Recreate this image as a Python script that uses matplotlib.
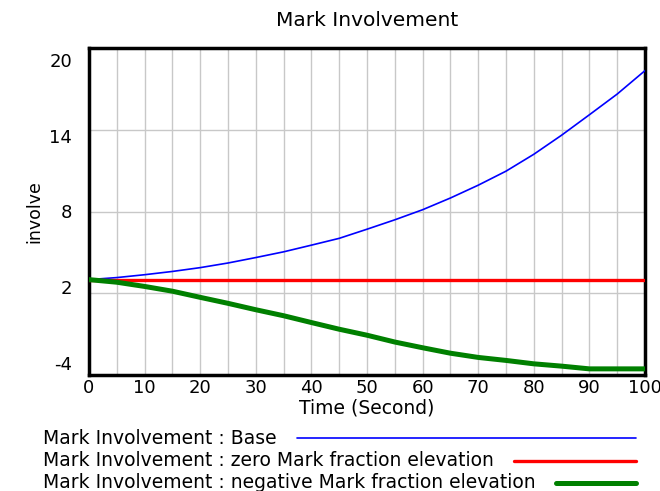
import matplotlib.pyplot as plt
from matplotlib.lines import Line2D

time = [0, 5, 10, 15, 20, 25, 30, 35, 40, 45, 50, 55, 60, 65, 70, 75, 80, 85, 90, 95, 100]
base = [3.0, 3.15, 3.36, 3.6, 3.88, 4.22, 4.62, 5.04, 5.53, 6.03, 6.7, 7.39, 8.13, 8.99,
        9.93, 10.96, 12.2, 13.6, 15.1, 16.62, 18.34]
zero_elev = [3.0] * len(time)
neg_elev = [3.0, 2.81, 2.5, 2.15, 1.7, 1.26, 0.79, 0.35, -0.15, -0.64, -1.08, -1.58, -2.0,
            -2.4, -2.71, -2.93, -3.18, -3.35, -3.55, -3.55, -3.55]

y_ticks = [-4, 2, 8, 14, 20]
x_ticks = list(range(0, 101, 10))
legend_labels = [
    "Mark Involvement : Base",
    "Mark Involvement : zero Mark fraction elevation",
    "Mark Involvement : negative Mark fraction elevation",
]

fig = plt.figure(figsize=(6.6, 4.91), dpi=100)
W, H = 660, 491
ax = fig.add_axes([89 / W, 1 - 375 / H, (645 - 89) / W, (375 - 48) / H])

ax.plot(time, base, color="#0000ff", lw=1.2, zorder=3)
ax.plot(time, zero_elev, color="#ff0000", lw=2.4, zorder=3)
ax.plot(time, neg_elev, color="#008000", lw=3.6, zorder=3)

ax.set_xlim(0, 100)
ax.set_ylim(-4, 20)
ax.set_xticks(x_ticks)
ax.set_xticks(range(5, 100, 10), minor=True)
ax.set_yticks(y_ticks)
ax.set_yticklabels([])
ax.grid(True, which="both", axis="x", color="#c8c8c8", lw=1)
ax.grid(True, axis="y", color="#c8c8c8", lw=1)
ax.tick_params(axis="both", which="both", length=0, labelsize=13, pad=3)
for s in ax.spines.values():
    s.set_linewidth(2.5)

# y labels are spread a bit inside the gridline positions, as in the original
for v in y_ticks:
    grid_py = 48 + (20 - v) / 24 * 327
    label_py = 62 + (grid_py - 48) * 303 / 327
    ax.text(-0.03, 1 - (label_py - 48) / 327, str(v), transform=ax.transAxes,
            ha="right", va="center", fontsize=13)

ax.set_xlabel("Time (Second)", fontsize=13.5, labelpad=1)
ax.set_ylabel("involve", fontsize=12.5, labelpad=30)
ax.set_title("Mark Involvement", fontsize=14.5, pad=16)

colors = ["#0000ff", "#ff0000", "#008000"]
widths = [1.2, 2.4, 3.6]
rows = [438, 461, 483]
fig.canvas.draw()
renderer = fig.canvas.get_renderer()
for label, c, w, py in zip(legend_labels, colors, widths, rows):
    t = fig.text(43 / W, 1 - py / H, label, fontsize=13.5, ha="left", va="center")
    x1 = t.get_window_extent(renderer).x1
    fig.add_artist(Line2D([(x1 + 20) / W, 636 / W], [1 - py / H] * 2, color=c, lw=w,
                          solid_capstyle="round"))

fig.savefig("out.png", dpi=100)
